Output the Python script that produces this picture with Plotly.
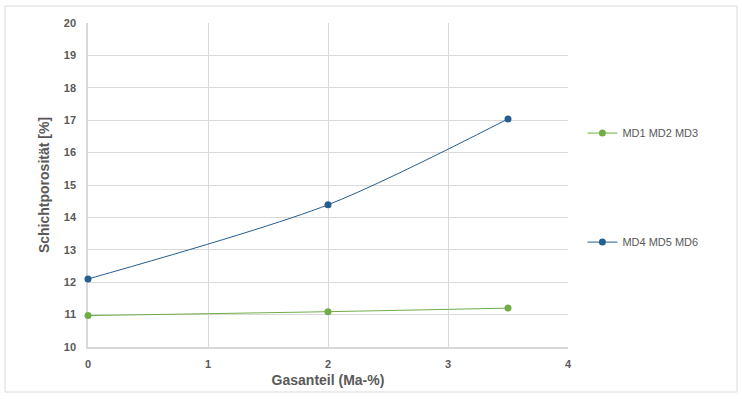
import plotly.graph_objects as go

gas = [0, 2, 3.5]
md123 = [10.97, 11.09, 11.2]
md456 = [12.1, 14.39, 17.04]
names = ["MD1 MD2 MD3", "MD4 MD5 MD6"]
colors = ["#70AD47", "#255E91"]

fig = go.Figure()
for i, (vals, name) in enumerate(zip([md123, md456], names)):
    fig.add_trace(go.Scatter(
        x=gas, y=vals, name=name, mode="lines+markers",
        line=dict(color=colors[i], width=1, shape="spline", smoothing=0.8),
        marker=dict(color=colors[i], size=7),
        legendgroup=f"g{i}", cliponaxis=False,
    ))

tickfont = dict(family="Liberation Sans, Arial, sans-serif", size=11, color="#595959")
titlefont = dict(family="Liberation Sans, Arial, sans-serif", size=14, color="#595959")

L, T, B = 88, 23, 52

fig.update_layout(
    width=742, height=399,
    margin=dict(l=L, r=174, t=T, b=B),
    paper_bgcolor="white", plot_bgcolor="white",
    showlegend=True,
    legend=dict(x=1.03, y=0.705, xanchor="left", yanchor="top",
                tracegroupgap=90, itemwidth=30,
                font=dict(family="Liberation Sans, Arial, sans-serif", size=11, color="#595959"),
                bgcolor="rgba(0,0,0,0)"),
    xaxis=dict(range=[0, 4], dtick=1, tick0=0, showgrid=True, gridcolor="#d9d9d9",
               showline=True, linecolor="#d9d9d9", linewidth=1.5, zeroline=False,
               ticks="", ticklabelstandoff=6, automargin=False, layer="below traces",
               tickfont=dict(**tickfont, weight="bold"),
               title=dict(text="Gasanteil (Ma-%)", font=dict(**titlefont, weight="bold"), standoff=6)),
    yaxis=dict(range=[10, 20], dtick=1, tick0=10, showgrid=True, gridcolor="#d9d9d9",
               showline=True, linecolor="#d9d9d9", linewidth=1.5, zeroline=False,
               ticks="", ticklabelstandoff=8, automargin=False, layer="below traces",
               tickfont=dict(**tickfont, weight="bold"),
               title=dict(text="Schichtporosität [%]", font=dict(**titlefont, weight="bold"), standoff=11)),
)

fig.add_shape(type="rect", xref="paper", yref="paper",
              x0=(5 - L) / 480, x1=(737 - L) / 480,
              y0=-45 / 324, y1=1 + 17 / 324,
              line=dict(color="#d9d9d9", width=1), fillcolor="rgba(0,0,0,0)", layer="below")

fig.write_html("out.html", config={"displayModeBar": False},
               post_script="document.body.style.margin='0';document.body.style.overflow='hidden';")
